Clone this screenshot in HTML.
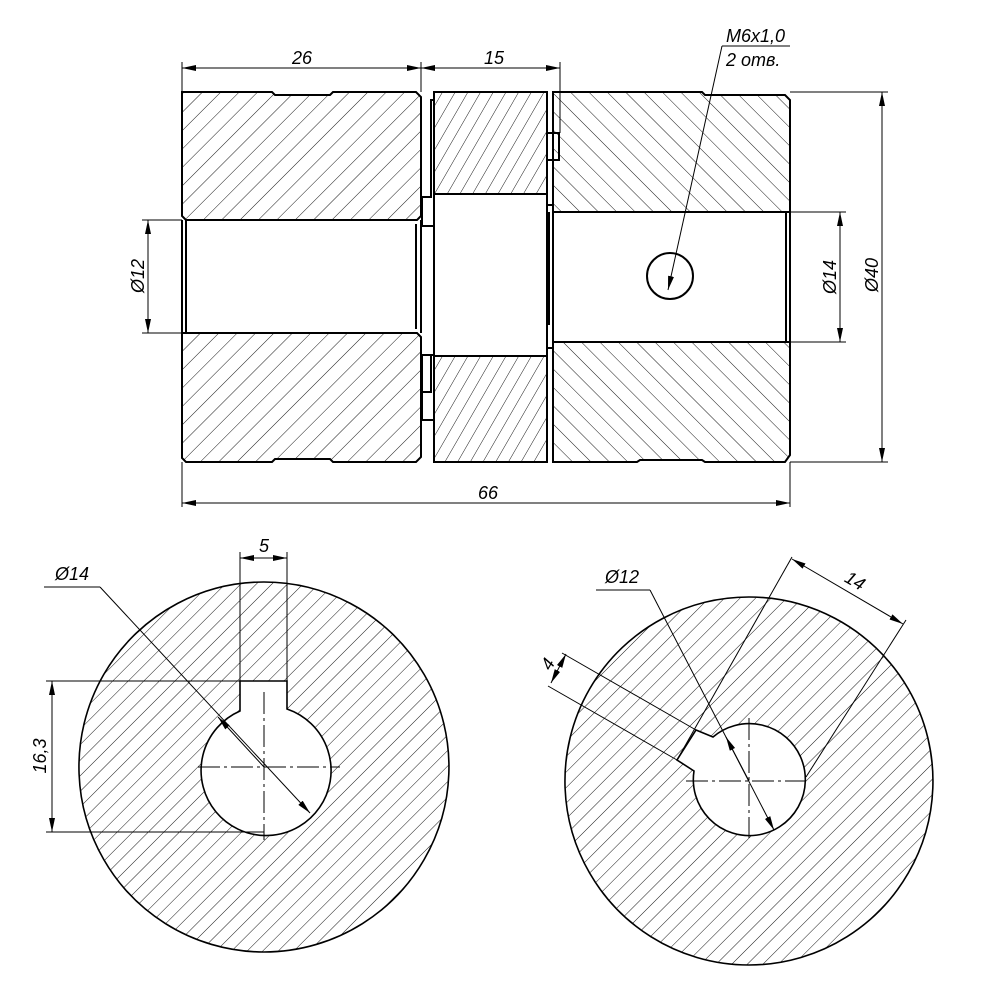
<!DOCTYPE html>
<html><head><style>html,body{margin:0;background:#fff}svg{display:block}</style></head><body>
<svg width="993" height="993" viewBox="0 0 993 993" xmlns="http://www.w3.org/2000/svg" font-family="Liberation Sans, sans-serif" font-style="italic">
<defs>
<pattern id="hA" width="13" height="13" patternUnits="userSpaceOnUse" patternTransform="rotate(45)"><line x1="0" y1="0" x2="0" y2="13" stroke="#000" stroke-width="0.9"/></pattern>
<pattern id="hB" width="13" height="13" patternUnits="userSpaceOnUse" patternTransform="rotate(-45)"><line x1="0" y1="0" x2="0" y2="13" stroke="#000" stroke-width="0.9"/></pattern>
<pattern id="hC" width="11" height="11" patternUnits="userSpaceOnUse" patternTransform="rotate(30)"><line x1="0" y1="0" x2="0" y2="11" stroke="#000" stroke-width="0.9"/></pattern>
<pattern id="hD" width="11" height="11" patternUnits="userSpaceOnUse" patternTransform="rotate(45)"><line x1="0" y1="0" x2="0" y2="11" stroke="#000" stroke-width="0.9"/></pattern>
<marker id="ar" markerWidth="14" markerHeight="6" refX="14" refY="3" orient="auto" markerUnits="userSpaceOnUse"><path d="M0,0 L14,3 L0,6 z"/></marker>
<marker id="as" markerWidth="14" markerHeight="6" refX="0" refY="3" orient="auto" markerUnits="userSpaceOnUse"><path d="M14,0 L0,3 L14,6 z"/></marker>
</defs>
<g stroke="#000" stroke-width="2" fill="none">
<path d="M182,92 H272 L275,95 H330 L333,92 H416 L421,97 V216 L417,220 H186 L182,216 Z" fill="url(#hA)"/>
<path d="M182,333 H417 L421,337 V457 L416,462 H333 L330,459 H275 L272,462 H186 L182,458 Z" fill="url(#hA)"/>
<line x1="182" y1="220" x2="182" y2="333"/><line x1="186" y1="220" x2="186" y2="333"/>
<line x1="416" y1="224" x2="416" y2="329"/><line x1="421" y1="220" x2="421" y2="333"/>
<rect x="434" y="92" width="113" height="102" fill="url(#hC)"/>
<rect x="434" y="356" width="113" height="106" fill="url(#hC)"/>
<rect x="434" y="194" width="113" height="162"/>
<path d="M434,100 H431 V197 H422 V226 H434"/>
<path d="M434,355 H422 V392 H431 V356"/>
<path d="M422,392 V420 H434"/>
<path d="M547,133 H559 V160 H547"/>
<path d="M547,205 H553 V348 H547"/>
<line x1="549" y1="212" x2="549" y2="325"/>
<path d="M553,92 H702 L705,95 H785 L790,100 V212 H553 Z" fill="url(#hB)"/>
<path d="M553,342 H790 V455 L785,462 H705 L702,460 H640 L637,462 H553 Z" fill="url(#hB)"/>
<line x1="786" y1="212" x2="786" y2="342"/><line x1="790" y1="212" x2="790" y2="342"/>
<circle cx="670" cy="276" r="23"/>
</g>
<g stroke="#000" stroke-width="1" fill="none">
<line x1="182" y1="62" x2="182" y2="92"/><line x1="421" y1="62" x2="421" y2="92"/><line x1="560" y1="62" x2="560" y2="133"/>
<line x1="182" y1="68" x2="421" y2="68" marker-start="url(#as)" marker-end="url(#ar)"/>
<line x1="421" y1="68" x2="560" y2="68" marker-start="url(#as)" marker-end="url(#ar)"/>
<line x1="182" y1="462" x2="182" y2="507"/><line x1="790" y1="462" x2="790" y2="507"/>
<line x1="182" y1="503" x2="790" y2="503" marker-start="url(#as)" marker-end="url(#ar)"/>
<line x1="790" y1="92" x2="888" y2="92"/><line x1="790" y1="462" x2="888" y2="462"/>
<line x1="882" y1="92" x2="882" y2="462" marker-start="url(#as)" marker-end="url(#ar)"/>
<line x1="790" y1="212" x2="846" y2="212"/><line x1="790" y1="342" x2="846" y2="342"/>
<line x1="840" y1="212" x2="840" y2="342" marker-start="url(#as)" marker-end="url(#ar)"/>
<line x1="142" y1="220" x2="182" y2="220"/><line x1="142" y1="333" x2="182" y2="333"/>
<line x1="148" y1="220" x2="148" y2="333" marker-start="url(#as)" marker-end="url(#ar)"/>
<line x1="722" y1="46" x2="790" y2="46"/>
<line x1="722" y1="46" x2="668" y2="290" marker-end="url(#ar)"/>
</g>
<g font-size="18" text-anchor="middle">
<text x="302" y="64">26</text><text x="494" y="64">15</text><text x="488" y="499">66</text>
<text x="726" y="42" text-anchor="start">M6x1,0</text>
<text x="726" y="66" text-anchor="start">2 отв.</text>
<text transform="translate(878,275) rotate(-90)">Ø40</text>
<text transform="translate(836,277) rotate(-90)">Ø14</text>
<text transform="translate(144,276) rotate(-90)">Ø12</text>
</g>
<g stroke="#000" stroke-width="1.6">
<path d="M264,582 A185,185 0 1 1 263.9,582 Z M240,681 H287 V709 A65,65 0 1 1 240,711 Z" fill="url(#hD)" fill-rule="evenodd"/>
</g>
<g stroke="#000" stroke-width="1" fill="none">
<line x1="240" y1="552" x2="240" y2="681"/><line x1="287" y1="552" x2="287" y2="681"/>
<line x1="240" y1="558" x2="287" y2="558" marker-start="url(#as)" marker-end="url(#ar)"/>
<line x1="46" y1="681" x2="240" y2="681"/><line x1="46" y1="832" x2="264" y2="832"/>
<line x1="52" y1="681" x2="52" y2="832" marker-start="url(#as)" marker-end="url(#ar)"/>
<line x1="44" y1="587" x2="100" y2="587"/>
<line x1="100" y1="587" x2="310" y2="813" marker-end="url(#ar)"/>
<line x1="264" y1="767" x2="218" y2="717" marker-end="url(#ar)"/>
<line x1="198" y1="767" x2="340" y2="767" stroke-dasharray="22,4,3,4"/>
<line x1="264" y1="692" x2="264" y2="840" stroke-dasharray="22,4,3,4"/>
</g>
<text x="264" y="552" font-size="18" text-anchor="middle">5</text>
<text x="72" y="580" font-size="18" text-anchor="middle">Ø14</text>
<text transform="translate(46,756) rotate(-90)" font-size="18" text-anchor="middle">16,3</text>
<g stroke="#000" stroke-width="1.6">
<path d="M749,597 A184,184 0 1 1 748.9,597 Z M713,737 L696,730 L677,760 L694,771 A56,56 0 1 0 713,737 Z" fill="url(#hD)" fill-rule="evenodd"/>
</g>
<g stroke="#000" stroke-width="1" fill="none">
<line x1="696" y1="730" x2="562" y2="653"/><line x1="677" y1="760" x2="548" y2="686"/>
<line x1="566" y1="654" x2="551" y2="683" marker-start="url(#as)" marker-end="url(#ar)"/>
<line x1="677" y1="760" x2="792" y2="557"/><line x1="806" y1="777" x2="906" y2="620"/>
<line x1="792" y1="559" x2="903" y2="624" marker-start="url(#as)" marker-end="url(#ar)"/>
<line x1="596" y1="590" x2="650" y2="590"/>
<line x1="650" y1="590" x2="774" y2="830" marker-end="url(#ar)"/>
<line x1="749" y1="781" x2="726" y2="737" marker-end="url(#ar)"/>
<line x1="686" y1="781" x2="806" y2="781" stroke-dasharray="22,4,3,4"/>
<line x1="749" y1="718" x2="749" y2="838" stroke-dasharray="22,4,3,4"/>
</g>
<text x="622" y="583" font-size="18" text-anchor="middle">Ø12</text>
<text transform="translate(852,586) rotate(30)" font-size="18" text-anchor="middle">14</text>
<text transform="translate(553,667) rotate(-60)" font-size="18" text-anchor="middle">4</text>
</svg>
</body></html>
